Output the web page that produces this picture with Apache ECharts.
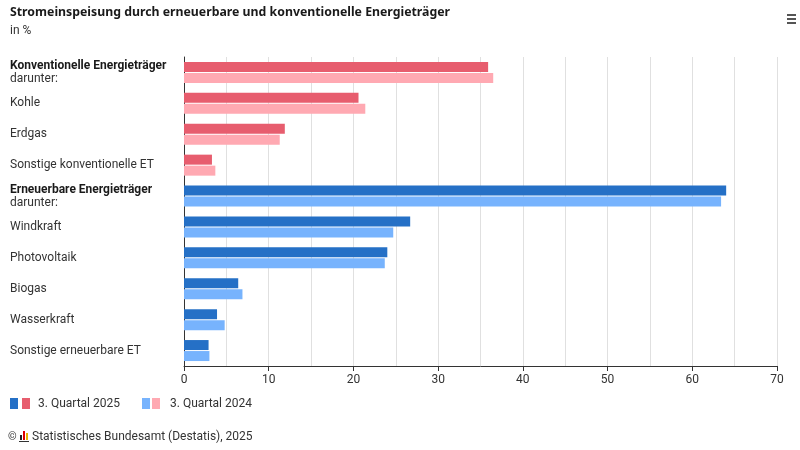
<!DOCTYPE html>
<html><head><meta charset="utf-8">
<script src="https://cdn.jsdelivr.net/npm/echarts@6/dist/echarts.min.js"></script>
<style>html,body{margin:0;padding:0;background:#fff}#c{width:800px;height:450px}</style>
</head><body><div id="c"></div>
<script>
const categories = ['Konventionelle Energieträger','Kohle','Erdgas','Sonstige konventionelle ET','Erneuerbare Energieträger','Windkraft','Photovoltaik','Biogas','Wasserkraft','Sonstige erneuerbare ET'];
const boldCats = ['Konventionelle Energieträger','Erneuerbare Energieträger'];
const q2025 = [35.9, 20.6, 11.9, 3.3, 64.0, 26.7, 24.0, 6.4, 3.9, 2.9];
const q2024 = [36.5, 21.4, 11.3, 3.7, 63.4, 24.7, 23.7, 6.9, 4.8, 3.0];
const groups = ['konv','konv','konv','konv','ern','ern','ern','ern','ern','ern'];
const xTicks = [0,10,20,30,40,50,60,70];

const colors = {
  konv: {d:'#E75D6E', l:'#FFA9B2'},
  ern: {d:'#2570C6', l:'#77B3FD'}
};
const FONT = 'Roboto, "Noto Sans", sans-serif';
const TFONT = '"Noto Sans", sans-serif';
const chart = echarts.init(document.getElementById('c'), null, {renderer:'canvas'});

function mk(vals, key){
  return vals.map((v,i)=>({value:v, itemStyle:{color:colors[groups[i]][key]}}));
}

chart.setOption({
  animation:false,
  textStyle:{fontFamily:FONT},
  title:[{text:'Stromeinspeisung durch erneuerbare und konventionelle Energieträger', left:10, top:6, padding:0,
    textStyle:{fontSize:12.3, fontWeight:'bold', color:'#1a1a1a', fontFamily:TFONT}},
    {text:'in %', left:10, top:25, padding:0, textStyle:{fontSize:12, fontWeight:'normal', color:'#333', fontFamily:FONT}}],
  grid:{left:184, right:23, top:57, bottom:84, containLabel:false},
  xAxis:{type:'value', min:0, max:70, interval:10,
    axisLine:{show:true, lineStyle:{color:'#333', width:1}},
    axisTick:{show:true, length:5, lineStyle:{color:'#333'}},
    axisLabel:{color:'#333', fontSize:12, margin:8, fontFamily:FONT, customValues: xTicks},
    splitLine:{show:true, lineStyle:{color:'#e0e0e0'}},
    minorTick:{show:false, splitNumber:2},
    minorSplitLine:{show:true, lineStyle:{color:'#e0e0e0'}}
  },
  yAxis:{type:'category', data:categories, inverse:true,
    axisLine:{show:true, lineStyle:{color:'#333'}},
    axisTick:{show:false},
    axisLabel:{align:'left', margin:174, fontSize:12, color:'#333', fontFamily:FONT,
      formatter:(v)=> boldCats.includes(v) ? '{b|'+v+'}\n{n|darunter:}' : v,
      rich:{b:{fontWeight:'bold', fontSize:12, color:'#1a1a1a', fontFamily:FONT, lineHeight:13},
            n:{fontSize:12, color:'#333', fontFamily:FONT, lineHeight:13}}}
  },
  series:[
    {name:'3. Quartal 2025', type:'bar', data:mk(q2025,'d'), barWidth:10, barGap:'10%'},
    {name:'3. Quartal 2024', type:'bar', data:mk(q2024,'l'), barWidth:10, barGap:'10%'}
  ],
  graphic:[
    {type:'rect', shape:{x:10,y:398,width:8,height:11}, style:{fill:colors.ern.d}},
    {type:'rect', shape:{x:22,y:398,width:8,height:11}, style:{fill:colors.konv.d}},
    {type:'text', x:38, y:404, style:{text:'3. Quartal 2025', fill:'#333', font:'12px '+FONT, textVerticalAlign:'middle'}},
    {type:'rect', shape:{x:142,y:398,width:8,height:11}, style:{fill:colors.ern.l}},
    {type:'rect', shape:{x:152,y:398,width:8,height:11}, style:{fill:colors.konv.l}},
    {type:'text', x:170, y:404, style:{text:'3. Quartal 2024', fill:'#333', font:'12px '+FONT, textVerticalAlign:'middle'}},
    {type:'text', x:8, y:437, style:{text:'©', fill:'#333', font:'11px '+FONT, textVerticalAlign:'middle'}},
    {type:'rect', shape:{x:20,y:435,width:2,height:5}, style:{fill:'#222'}},
    {type:'rect', shape:{x:23,y:431,width:2,height:9}, style:{fill:'#d00'}},
    {type:'rect', shape:{x:26,y:433,width:2,height:7}, style:{fill:'#e8b500'}},
    {type:'rect', shape:{x:19,y:441,width:10,height:1}, style:{fill:'#333'}},
    {type:'text', x:32, y:437, style:{text:'Statistisches Bundesamt (Destatis), 2025', fill:'#333', font:'12px '+FONT, textVerticalAlign:'middle'}},
    {type:'rect', shape:{x:787,y:14,width:9,height:2}, style:{fill:'#555'}},
    {type:'rect', shape:{x:787,y:18,width:9,height:2}, style:{fill:'#555'}},
    {type:'rect', shape:{x:787,y:22,width:9,height:2}, style:{fill:'#555'}}
  ]
});
</script></body></html>
